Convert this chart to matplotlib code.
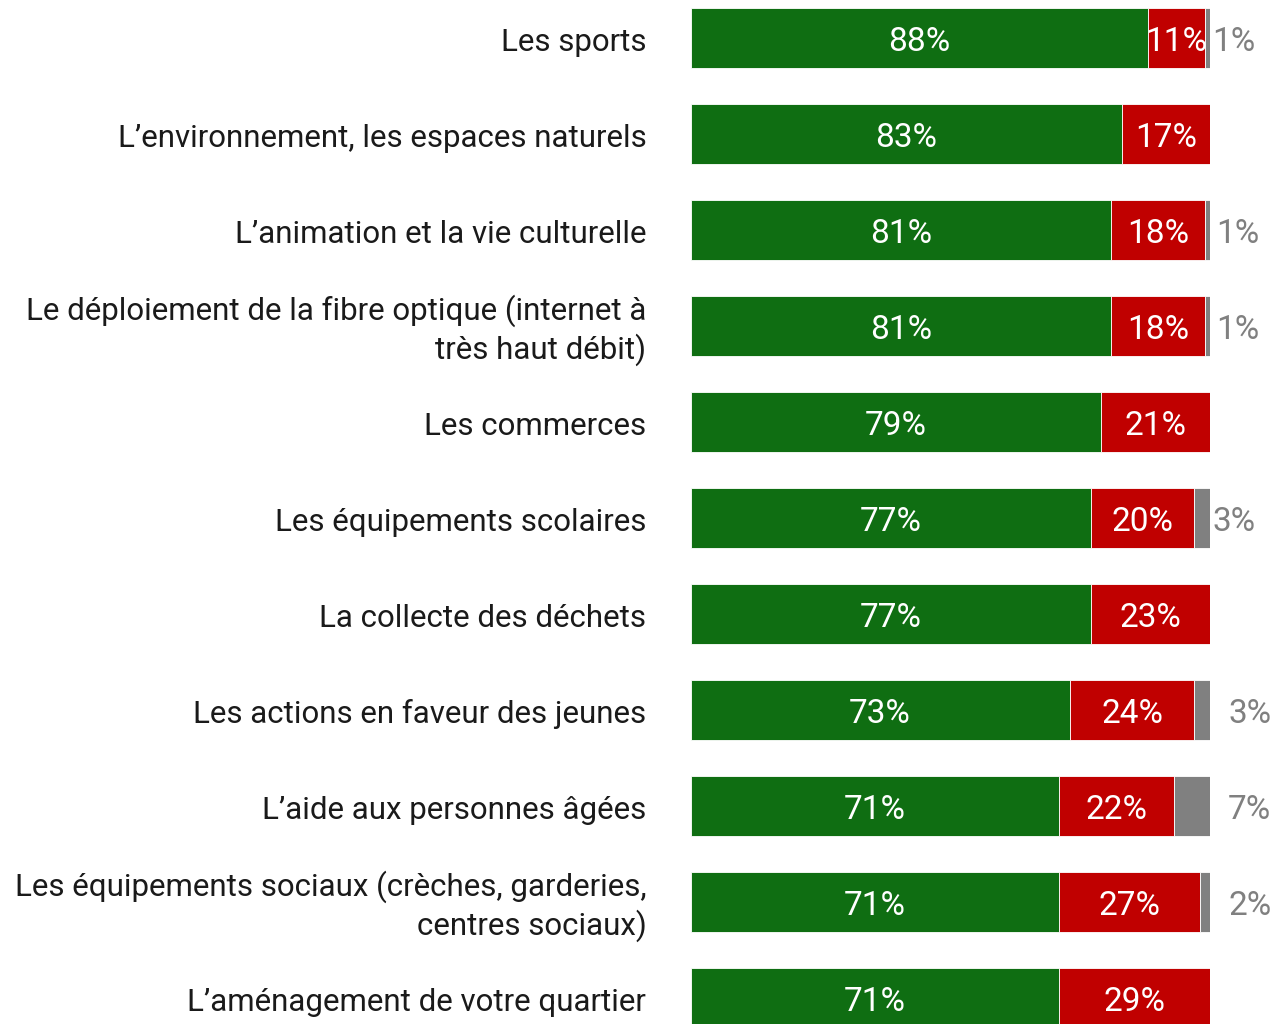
import matplotlib
matplotlib.use("Agg")
import matplotlib.pyplot as plt
import numpy as np

plt.rcParams["font.family"] = ["Roboto", "DejaVu Sans"]

# data
categories = [
    "Les sports",
    "L’environnement, les espaces naturels",
    "L’animation et la vie culturelle",
    "Le déploiement de la fibre optique (internet à\ntrès haut débit)",
    "Les commerces",
    "Les équipements scolaires",
    "La collecte des déchets",
    "Les actions en faveur des jeunes",
    "L’aide aux personnes âgées",
    "Les équipements sociaux (crèches, garderies,\ncentres sociaux)",
    "L’aménagement de votre quartier",
]
satisfied = [88, 83, 81, 81, 79, 77, 77, 73, 71, 71, 71]
unsatisfied = [11, 17, 18, 18, 21, 20, 23, 24, 22, 27, 29]
no_answer = [1, 0, 1, 1, 0, 3, 0, 3, 7, 2, 0]

# left edge of the grey outside labels (axis units, past the 100% end)
grey_label_x = [100.4, 0, 101.2, 101.2, 0, 100.4, 0, 103.5, 103.5, 103.5, 0]

GREEN, RED, GREY = "#0f6e12", "#c00000", "#808080"

fig = plt.figure(figsize=(12.81, 10.24), dpi=100)
ax = fig.add_axes([690.5 / 1281, 0, 519.5 / 1281, 1])

y = np.arange(len(categories))
h = 0.625
g = np.array(satisfied)
r = np.array(unsatisfied)
n = np.array(no_answer)

ax.barh(y, g, height=h, color=GREEN, edgecolor="#ffffff", linewidth=0.6)
ax.barh(y, r, left=g, height=h, color=RED, edgecolor="#ffffff", linewidth=0.6)
ax.barh(y, n, left=g + r, height=h, color=GREY, edgecolor="#ffffff", linewidth=0.6)

dy = 0.045  # text sits a touch below bar centre in the reference
num_kw = dict(fontsize=24, fontweight="normal")
for i in y:
    ax.text(g[i] / 2, i + dy, f"{g[i]}%", ha="center", va="center", color="white", **num_kw)
    ax.text(g[i] + r[i] / 2, i + dy, f"{r[i]}%", ha="center", va="center", color="white", **num_kw)
    if n[i] > 0:
        ax.text(grey_label_x[i], i + dy, f"{n[i]}%", ha="left", va="center", color=GREY,
                clip_on=False, **num_kw)
    ax.text(-8.5, i + dy, categories[i], ha="right", va="center", color="#1a1a1a",
            fontsize=22.5, linespacing=1.25, clip_on=False)

ax.set_xlim(0, 100)
ax.set_ylim((1024 - 38) / 96, -38 / 96)
ax.axis("off")

fig.savefig("out.png", dpi=100)
